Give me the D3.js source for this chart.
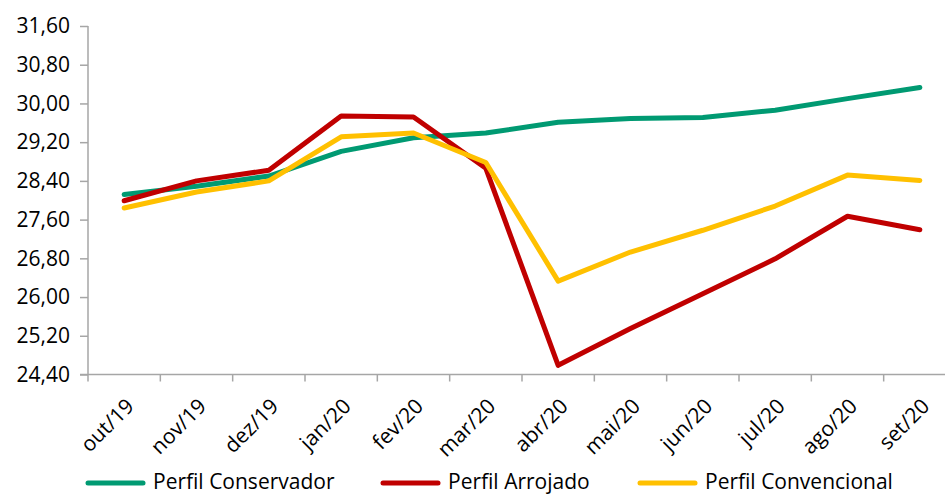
<!DOCTYPE html>
<html>
  <head>
    <meta charset="utf-8" />
    <title>Perfis</title>
    <script src="https://d3js.org/d3.v7.min.js"></script>
    <style>
      body { margin: 0; background: #fff; }
      text { font-family: "Open Sans", sans-serif; fill: #000; }
    </style>
  </head>
  <body>
    <svg width="945" height="495"></svg>

    <script>
      // Months on the category axis
      const months = ["out/19", "nov/19", "dez/19", "jan/20", "fev/20", "mar/20",
                      "abr/20", "mai/20", "jun/20", "jul/20", "ago/20", "set/20"];

      // Values
      const conservador = [28.12, 28.29, 28.50, 29.01, 29.29, 29.39, 29.61, 29.69, 29.71, 29.86, 30.10, 30.33];
      const arrojado    = [27.99, 28.40, 28.62, 29.74, 29.72, 28.66, 24.59, 25.35, 26.07, 26.79, 27.67, 27.39];
      const convencional = [27.84, 28.17, 28.40, 29.31, 29.39, 28.78, 26.33, 26.93, 27.38, 27.88, 28.52, 28.41];

      const yTicks = [24.4, 25.2, 26.0, 26.8, 27.6, 28.4, 29.2, 30.0, 30.8, 31.6];

      const series = [
        { name: "Perfil Conservador", values: conservador, color: "#009A72" },
        { name: "Perfil Arrojado", values: arrojado, color: "#C00000" },
        { name: "Perfil Convencional", values: convencional, color: "#FFC000" },
      ];

      const svg = d3.select("svg");
      const axisColor = "#A6A6A6";

      const x = d3.scaleBand().domain(months).range([88, 956]);
      const y = d3.scaleLinear().domain([24.4, 31.6]).range([374.5, 26]);

      // y axis
      const yAxis = svg.append("g").attr("transform", "translate(88,0)")
        .call(d3.axisLeft(y).tickValues(yTicks).tickSize(8).tickPadding(10)
          .tickFormat((d) => d3.format(".2f")(d).replace(".", ",")));
      yAxis.selectAll("path").remove();
      yAxis.selectAll("line").attr("stroke", axisColor).attr("stroke-width", 1.5);
      yAxis.selectAll("text").attr("font-size", "21px").attr("fill", "#000");
      svg.append("line")
        .attr("x1", 88).attr("x2", 88).attr("y1", y(31.6)).attr("y2", y(24.4))
        .attr("stroke", axisColor).attr("stroke-width", 1.5);

      // x axis line with ticks between categories
      svg.append("line")
        .attr("x1", 80).attr("x2", 945).attr("y1", y(24.4)).attr("y2", y(24.4))
        .attr("stroke", axisColor).attr("stroke-width", 1.5);
      svg.selectAll(".xtick").data(months).enter().append("line")
        .attr("class", "xtick")
        .attr("x1", (d) => x(d)).attr("x2", (d) => x(d))
        .attr("y1", y(24.4)).attr("y2", y(24.4) + 7)
        .attr("stroke", axisColor).attr("stroke-width", 1.5);

      // rotated month labels
      svg.selectAll(".xlabel").data(months).enter().append("text")
        .attr("class", "xlabel")
        .attr("font-size", "21px")
        .attr("text-anchor", "end")
        .attr("transform", (d) => `translate(${x(d) + x.bandwidth() / 2 + 11},${y(24.4) + 33}) rotate(-45)`)
        .text((d) => d);

      // lines
      const line = d3.line()
        .x((d, i) => x(months[i]) + x.bandwidth() / 2)
        .y((d) => y(d));

      series.forEach((s) => {
        svg.append("path")
          .datum(s.values)
          .attr("fill", "none")
          .attr("stroke", s.color)
          .attr("stroke-width", 5)
          .attr("stroke-linejoin", "round")
          .attr("stroke-linecap", "round")
          .attr("d", line);
      });

      // legend (kept just inside the bottom edge)
      const legendX = [88, 383, 640];
      const legend = svg.selectAll(".legend").data(series).enter().append("g")
        .attr("class", "legend")
        .attr("transform", (d, i) => `translate(${legendX[i]},483)`);
      legend.append("line")
        .attr("x1", 0).attr("x2", 55)
        .attr("stroke", (d) => d.color).attr("stroke-width", 5)
        .attr("stroke-linecap", "round");
      legend.append("text")
        .attr("x", 65).attr("y", 6)
        .attr("font-size", "21px")
        .text((d) => d.name);
    </script>
  </body>
</html>
